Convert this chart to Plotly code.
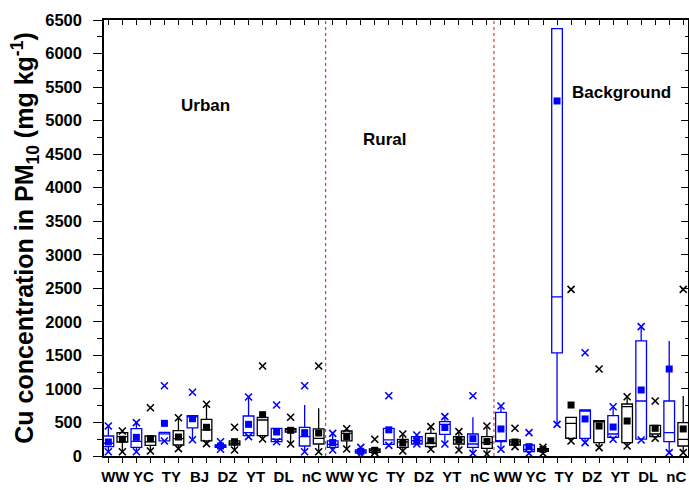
import plotly.graph_objects as go
import numpy as np

# ---------------- data ----------------
urban_cities = ["WW", "YC", "TY", "BJ", "DZ", "YT", "DL", "nC"]
rural_cities = ["WW", "YC", "TY", "DZ", "YT", "nC"]
bg_cities = ["WW", "YC", "TY", "DZ", "YT", "DL", "nC"]
region_names = ["Urban", "Rural", "Background"]

# blue series (one box per city, urban -> rural -> background)
blue_xlo = [64, 64, 224, 243, 100, 288, 213, 64,
            89, 30, 159, 179, 179, 40,
            100, 40, 472, 199, 249, 239, 50]
blue_wlo = [64, 64, 224, 243, 100, 288, 213, 64,
            89, 30, 159, 179, 179, 40,
            100, 40, 472, 199, 249, 239, 50]
blue_q1 = [139, 129, 224, 418, 129, 303, 213, 149,
           129, 45, 174, 179, 323, 129,
           213, 64, 1536, 264, 278, 253, 213]
blue_med = [190, 219, 330, 585, 145, 348, 250, 288,
            174, 70, 240, 230, 470, 179,
            220, 100, 2371, 680, 328, 820, 348]
blue_q3 = [298, 407, 353, 601, 164, 596, 413, 428,
           224, 90, 413, 288, 512, 328,
           651, 164, 6370, 686, 601, 1715, 820]
blue_whi = [447, 497, 353, 601, 213, 880, 413, 760,
            338, 129, 413, 313, 586, 577,
            746, 164, 6370, 686, 735, 1928, 1715]
blue_xhi = [447, 497, 1048, 950, 213, 880, 760, 1048,
            338, 129, 899, 313, 586, 899,
            746, 348, None, 1540, 735, 1928, None]
blue_mean = [209, 278, 487, 556, 149, 472, 358, 348,
             200, 70, 390, 228, 425, 258,
             403, 139, 5293, 552, 432, 984, 1297]

# black series
black_xlo = [64, 75, 109, 184, 89, 253, 179, 64,
             104, 50, 75, 100, 89, 30,
             139, 40, 224, 124, 149, 264, 50]
black_wlo = [64, 75, 109, 184, 89, 253, 179, 64,
             104, 50, 75, 100, 89, 30,
             139, 40, 224, 124, 149, 264, 50]
black_q1 = [209, 159, 164, 224, 164, 303, 358, 179,
            224, 55, 129, 139, 179, 114,
            164, 70, 264, 199, 199, 288, 149]
black_med = [288, 210, 260, 388, 190, 537, 390, 264,
             338, 80, 210, 190, 240, 200,
             210, 90, 487, 510, 735, 328, 249]
black_q3 = [348, 298, 378, 547, 224, 577, 407, 403,
            373, 104, 249, 338, 288, 288,
            239, 110, 577, 527, 775, 458, 497]
black_whi = [373, 298, 571, 771, 224, 577, 407, 711,
             407, 104, 328, 437, 363, 447,
             239, 130, 577, 527, 884, 458, 895]
black_xhi = [373, 720, 571, 771, 428, 1342, 577, 1342,
             407, 249, 328, 437, 363, 447,
             413, 130, 2485, 1297, 884, 820, 2485]
black_mean = [249, 258, 283, 428, 213, 616, 383, 343,
              288, 85, 195, 228, 239, 215,
              209, 100, 760, 447, 522, 413, 403]

# ---------------- layout helpers ----------------
all_cities = urban_cities + rural_cities + bg_cities
n_city = len(all_cities)
blue_x = [2 * i + 1 for i in range(n_city)]
black_x = [2 * i + 2 for i in range(n_city)]
label_x = [2 * i + 1.5 for i in range(n_city)]
n_box = 2 * n_city
sep_x = [2 * len(urban_cities) + 0.5, 2 * (len(urban_cities) + len(rural_cities)) + 0.5]
region_label_x = [7.9, 20.7, 37.6]
region_label_y = [5220, 4720, 5420]

BLUE = "#0000FF"
BLACK = "#000000"
FONT = "Liberation Sans, Arial, sans-serif"
xr = [0.69, 42.34]
yr = [0, 6500]

fig = go.Figure()


def add_series(xs, q1, med, q3, wlo, whi, xlo, xhi, mean, color):
    fig.add_trace(go.Box(
        x=xs, q1=q1, median=med, q3=q3, lowerfence=wlo, upperfence=whi,
        width=0.76, whiskerwidth=0, boxpoints=False,
        line=dict(color=color, width=1.3), fillcolor="rgba(0,0,0,0)",
        showlegend=False, hoverinfo="skip"))
    fig.add_trace(go.Scatter(
        x=xs + xs, y=list(xlo) + [np.nan if v is None else v for v in xhi],
        mode="markers",
        marker=dict(symbol="x-thin", size=7, line=dict(color=color, width=1.6)),
        showlegend=False, hoverinfo="skip"))
    fig.add_trace(go.Scatter(
        x=xs, y=mean, mode="markers",
        marker=dict(symbol="square", size=7, color=color, line=dict(width=0)),
        showlegend=False, hoverinfo="skip"))


add_series(blue_x, blue_q1, blue_med, blue_q3, blue_wlo, blue_whi,
           blue_xlo, blue_xhi, blue_mean, BLUE)
add_series(black_x, black_q1, black_med, black_q3, black_wlo, black_whi,
           black_xlo, black_xhi, black_mean, BLACK)

# invisible traces to anchor overlay axes
fig.add_trace(go.Scatter(x=[1], y=[-100], xaxis="x2", yaxis="y2", mode="markers",
                         marker=dict(opacity=0), showlegend=False, hoverinfo="skip"))
fig.add_trace(go.Scatter(x=[1], y=[-100], xaxis="x3", yaxis="y2", mode="markers",
                         marker=dict(opacity=0), showlegend=False, hoverinfo="skip"))

for sx in sep_x:
    fig.add_shape(type="line", x0=sx, x1=sx, y0=0, y1=1, xref="x", yref="paper",
                  line=dict(color="#FF0000", width=1, dash="dot"))

for name, lx, ly in zip(region_names, region_label_x, region_label_y):
    fig.add_annotation(x=lx, y=ly, text="<b>%s</b>" % name, showarrow=False,
                       font=dict(family=FONT, size=17, color="black"))

fig.update_layout(
    width=689, height=490,
    margin=dict(l=104, r=1, t=20, b=34),
    plot_bgcolor="white", paper_bgcolor="white",
    boxmode="overlay", showlegend=False,
    font=dict(family=FONT, color="black"),
    xaxis=dict(range=xr, tickvals=list(range(1, n_box + 1)), showticklabels=False,
               ticks="outside", ticklen=5, tickwidth=1.2, tickcolor="black",
               showline=True, linecolor="black", linewidth=1.5,
               showgrid=False, zeroline=False),
    xaxis2=dict(range=xr, overlaying="x", side="bottom", anchor="y",
                tickvals=label_x, ticktext=["<b>%s</b>" % c for c in all_cities],
                tickangle=0,
                ticks="outside", ticklen=7, tickcolor="rgba(0,0,0,0)",
                tickfont=dict(family=FONT, size=15, color="black"),
                showline=False, showgrid=False, zeroline=False),
    xaxis3=dict(range=xr, overlaying="x", side="top", anchor="y2",
                tickvals=list(range(1, n_box + 1)), showticklabels=False,
                ticks="inside", ticklen=5, tickwidth=1.2, tickcolor="black",
                showline=True, linecolor="black", linewidth=1.5,
                showgrid=False, zeroline=False),
    yaxis=dict(range=yr, dtick=500, tick0=0, ticks="outside", ticklen=9,
               tickwidth=1.2, tickcolor="black", ticklabelstandoff=8,
               minor=dict(dtick=250, ticks="outside", ticklen=5, tickcolor="black", tickwidth=1.2),
               tickfont=dict(family=FONT, size=16.5, color="black"),
               tickprefix="<b>", ticksuffix="</b>",
               showline=True, linecolor="black", linewidth=1.5,
               showgrid=False, zeroline=False,
               title=dict(text="<b>Cu concentration in PM<sub>10</sub> (mg kg<sup>-1</sup>)</b>",
                          font=dict(family=FONT, size=25, color="black"), standoff=4)),
    yaxis2=dict(range=yr, overlaying="y", side="right", anchor="x",
                dtick=500, tick0=0, ticks="inside", ticklen=7, tickwidth=1.2, tickcolor="black",
                minor=dict(dtick=250, ticks="inside", ticklen=3, tickcolor="black", tickwidth=1.2),
                showticklabels=False, showline=True, linecolor="black", linewidth=1.5,
                showgrid=False, zeroline=False),
)

fig.write_html("out.html")
